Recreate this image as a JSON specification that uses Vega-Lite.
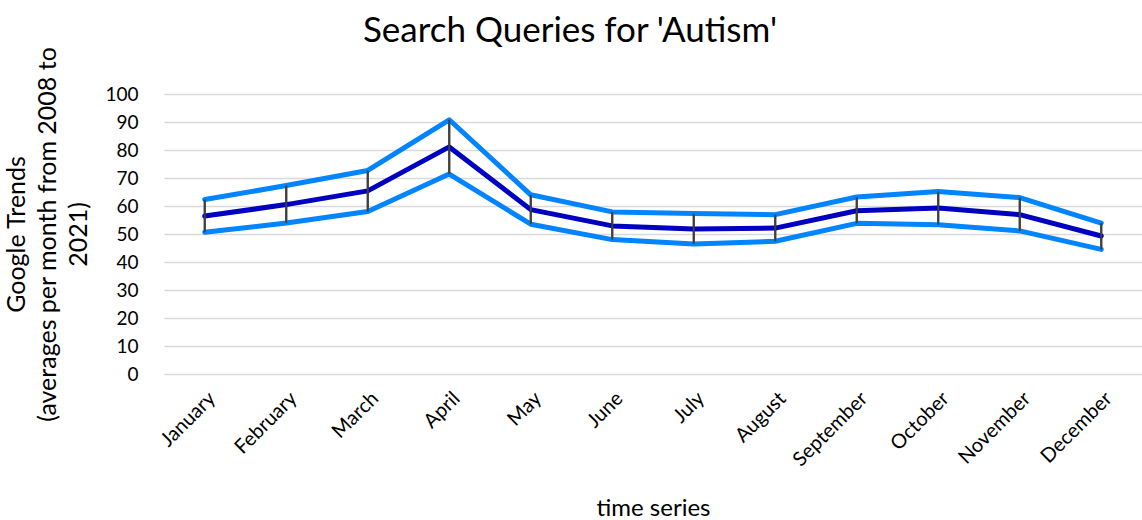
{
  "$schema": "https://vega.github.io/schema/vega-lite/v6.json",
  "width": 978,
  "height": 280,
  "autosize": {"type": "none"},
  "padding": {"left": 164, "top": 94, "right": 0, "bottom": 146},
  "background": "white",
  "config": {
    "font": "Lato",
    "view": {"stroke": null},
    "axisY": {"tickCount": 11}
  },
  "title": {
    "text": "Search Queries for 'Autism'",
    "font": "Lato",
    "fontSize": 35,
    "fontWeight": "normal",
    "color": "#000000",
    "anchor": "middle",
    "dx": -83,
    "offset": -3
  },
  "data": {
    "values": [
      {"month": "January", "upper": 62.3, "mean": 56.4, "lower": 50.6},
      {"month": "February", "upper": 67.3, "mean": 60.5, "lower": 53.9},
      {"month": "March", "upper": 72.7, "mean": 65.4, "lower": 58.0},
      {"month": "April", "upper": 90.8, "mean": 81.1, "lower": 71.4},
      {"month": "May", "upper": 64.0, "mean": 58.7, "lower": 53.5},
      {"month": "June", "upper": 57.9, "mean": 52.9, "lower": 48.0},
      {"month": "July", "upper": 57.3, "mean": 51.8, "lower": 46.4},
      {"month": "August", "upper": 56.9, "mean": 52.1, "lower": 47.4},
      {"month": "September", "upper": 63.2, "mean": 58.3, "lower": 53.8},
      {"month": "October", "upper": 65.2, "mean": 59.3, "lower": 53.3},
      {"month": "November", "upper": 63.0, "mean": 56.9, "lower": 51.1},
      {"month": "December", "upper": 53.9, "mean": 49.3, "lower": 44.5}
    ]
  },
  "encoding": {
    "x": {
      "field": "month",
      "type": "ordinal",
      "sort": null,
      "scale": {"type": "point", "padding": 0.5},
      "axis": {
        "title": "time series",
        "titleFont": "Lato",
        "titleFontSize": 24,
        "titleFontWeight": "normal",
        "titleColor": "#000000",
        "titlePadding": 27,
        "labelAngle": -45,
        "labelFont": "Lato",
        "labelFontSize": 20,
        "labelColor": "#000000",
        "labelPadding": 14,
        "labelOverlap": false,
        "domain": false,
        "ticks": false,
        "grid": false
      }
    }
  },
  "layer": [
    {
      "mark": {"type": "rule", "color": "#3f3f3f", "strokeWidth": 2},
      "encoding": {
        "y": {
          "field": "lower",
          "type": "quantitative",
          "scale": {"domain": [0, 100], "nice": false},
          "axis": {
            "values": [0, 10, 20, 30, 40, 50, 60, 70, 80, 90, 100],
            "tickCount": 11,
            "title": ["Google Trends", "(averages per month from 2008 to", "2021)"],
            "titleFont": "Lato",
            "titleFontSize": 25,
            "titleFontWeight": "normal",
            "titleColor": "#000000",
            "titleLineHeight": 31,
            "titlePadding": 13,
            "labelFont": "Lato",
            "labelFontSize": 19,
            "labelColor": "#000000",
            "labelPadding": 26,
            "labelOverlap": false,
            "domain": false,
            "ticks": false,
            "grid": true,
            "gridColor": "#d9d9d9",
            "gridWidth": 1.5
          }
        },
        "y2": {"field": "upper"}
      }
    },
    {
      "mark": {"type": "line", "color": "#0084ff", "strokeWidth": 5, "strokeCap": "round", "strokeJoin": "round"},
      "encoding": {"y": {"field": "upper", "type": "quantitative"}}
    },
    {
      "mark": {"type": "line", "color": "#0084ff", "strokeWidth": 5, "strokeCap": "round", "strokeJoin": "round"},
      "encoding": {"y": {"field": "lower", "type": "quantitative"}}
    },
    {
      "mark": {"type": "line", "color": "#0000c0", "strokeWidth": 5, "strokeCap": "round", "strokeJoin": "round"},
      "encoding": {"y": {"field": "mean", "type": "quantitative"}}
    },
    {
      "mark": {"type": "rule", "color": "#3f3f3f", "strokeWidth": 2},
      "encoding": {"y": {"field": "lower", "type": "quantitative"}, "y2": {"field": "upper"}}
    }
  ]
}
